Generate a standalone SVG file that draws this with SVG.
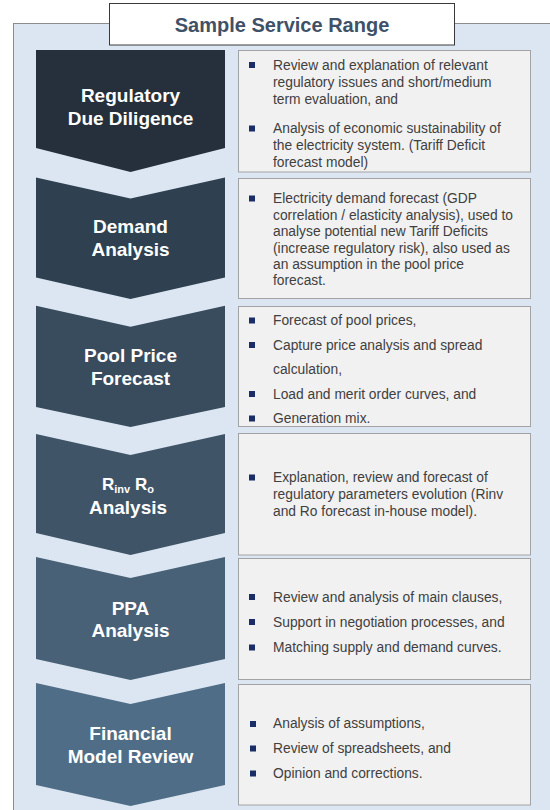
<svg xmlns="http://www.w3.org/2000/svg" width="550" height="810" viewBox="0 0 550 810">
<style>
.panel{fill:#dce6f2;stroke:#8c8c8c;stroke-width:1}
.title{fill:#ffffff;stroke:#3a3a3a;stroke-width:1}
.ttl{font-family:"Liberation Sans",Arial,sans-serif;font-weight:bold;font-size:20px;fill:#3f5166;text-anchor:middle}
.box{fill:#f1f1f1;stroke:#a3a3a3;stroke-width:1}
.lbl{font-family:"Liberation Sans",Arial,sans-serif;font-weight:bold;font-size:19px;fill:#ffffff;text-anchor:middle}
.txt{font-family:"Liberation Sans",Arial,sans-serif;font-size:13.8px;fill:#404040}
.bul{fill:#1b2d66}
</style>
<rect class="panel" x="13.5" y="23.5" width="540" height="790"/>
<g id="title">
<rect class="title" x="109.5" y="3.5" width="345" height="41.5"/>
<text class="ttl" x="282" y="31.5">Sample Service Range</text>
</g>
<g id="connectors"></g>
<g id="node1">
<path d="M36,50 L225,50 L225,148 L130.5,172 L36,148 Z" fill="#25303c"/>
<text class="lbl" x="130.5" y="101.5">Regulatory</text>
<text class="lbl" x="130.5" y="125">Due Diligence</text>
<rect class="box" x="238.5" y="50.5" width="292" height="121.5"/>
<rect class="bul" x="249" y="62" width="6" height="6"/>
<text class="txt" x="273" y="69.5">Review and explanation of relevant</text>
<text class="txt" x="273" y="86.5">regulatory issues and short/medium</text>
<text class="txt" x="273" y="103.5">term evaluation, and</text>
<rect class="bul" x="249" y="125.5" width="6" height="6"/>
<text class="txt" x="273" y="133">Analysis of economic sustainability of</text>
<text class="txt" x="273" y="150">the electricity system. (Tariff Deficit</text>
<text class="txt" x="273" y="167">forecast model)</text>
</g>
<g id="node2">
<path d="M36,177.5 L130.5,198.5 L225,177.5 L225,277.5 L130.5,299 L36,277.5 Z" fill="#2f4150"/>
<text class="lbl" x="130.5" y="233.3">Demand</text>
<text class="lbl" x="130.5" y="256">Analysis</text>
<rect class="box" x="238.5" y="178.5" width="292" height="120"/>
<rect class="bul" x="249" y="195.5" width="6" height="6"/>
<text class="txt" x="273" y="203">Electricity demand forecast (GDP</text>
<text class="txt" x="273" y="219.5">correlation / elasticity analysis), used to</text>
<text class="txt" x="273" y="236">analyse potential new Tariff Deficits</text>
<text class="txt" x="273" y="252.5">(increase regulatory risk), also used as</text>
<text class="txt" x="273" y="269">an assumption in the pool price</text>
<text class="txt" x="273" y="285">forecast.</text>
</g>
<g id="node3">
<path d="M36,305.7 L130.5,326.7 L225,305.7 L225,407 L130.5,427 L36,407 Z" fill="#384c5e"/>
<text class="lbl" x="130.5" y="361.5">Pool Price</text>
<text class="lbl" x="130.5" y="385">Forecast</text>
<rect class="box" x="238.5" y="306.5" width="292" height="120"/>
<rect class="bul" x="249" y="317.5" width="6" height="6"/>
<text class="txt" x="273" y="325">Forecast of pool prices,</text>
<rect class="bul" x="249" y="342" width="6" height="6"/>
<text class="txt" x="273" y="349.5">Capture price analysis and spread</text>
<text class="txt" x="273" y="374">calculation,</text>
<rect class="bul" x="249" y="391" width="6" height="6"/>
<text class="txt" x="273" y="398.5">Load and merit order curves, and</text>
<rect class="bul" x="249" y="415.5" width="6" height="6"/>
<text class="txt" x="273" y="423">Generation mix.</text>
</g>
<g id="node4">
<path d="M36,434 L130.5,455 L225,434 L225,533 L130.5,555 L36,533 Z" fill="#3f5467"/>
<text class="lbl" x="128" y="489.5" style="font-size:17px">R<tspan dy="3" style="font-size:11px">inv</tspan><tspan dy="-3"> R</tspan><tspan dy="3" style="font-size:11px">o</tspan></text>
<text class="lbl" x="128" y="513.5">Analysis</text>
<rect class="box" x="238.5" y="433.5" width="292" height="121.5"/>
<rect class="bul" x="249" y="474.5" width="6" height="6"/>
<text class="txt" x="273" y="482">Explanation, review and forecast of</text>
<text class="txt" x="273" y="499">regulatory parameters evolution (Rinv</text>
<text class="txt" x="273" y="515.5">and Ro forecast in-house model).</text>
</g>
<g id="node5">
<path d="M36,557 L130.5,578 L225,557 L225,659 L130.5,680 L36,659 Z" fill="#486177"/>
<text class="lbl" x="130.5" y="614.5">PPA</text>
<text class="lbl" x="130.5" y="637">Analysis</text>
<rect class="box" x="238.5" y="558.5" width="292" height="121"/>
<rect class="bul" x="249" y="594" width="6" height="6"/>
<text class="txt" x="273" y="601.5">Review and analysis of main clauses,</text>
<rect class="bul" x="249" y="619" width="6" height="6"/>
<text class="txt" x="273" y="626.5">Support in negotiation processes, and</text>
<rect class="bul" x="249" y="644.5" width="6" height="6"/>
<text class="txt" x="273" y="652">Matching supply and demand curves.</text>
</g>
<g id="node6">
<path d="M36,683 L130.5,704 L225,683 L225,785 L130.5,806 L36,785 Z" fill="#4f6d86"/>
<text class="lbl" x="130.5" y="740">Financial</text>
<text class="lbl" x="130.5" y="763.3">Model Review</text>
<rect class="box" x="238.5" y="684.5" width="292" height="120.5"/>
<rect class="bul" x="250" y="721" width="6" height="6"/>
<text class="txt" x="273" y="728">Analysis of assumptions,</text>
<rect class="bul" x="250" y="745.5" width="6" height="6"/>
<text class="txt" x="273" y="753">Review of spreadsheets, and</text>
<rect class="bul" x="250" y="770.5" width="6" height="6"/>
<text class="txt" x="273" y="778">Opinion and corrections.</text>
</g>
</svg>
